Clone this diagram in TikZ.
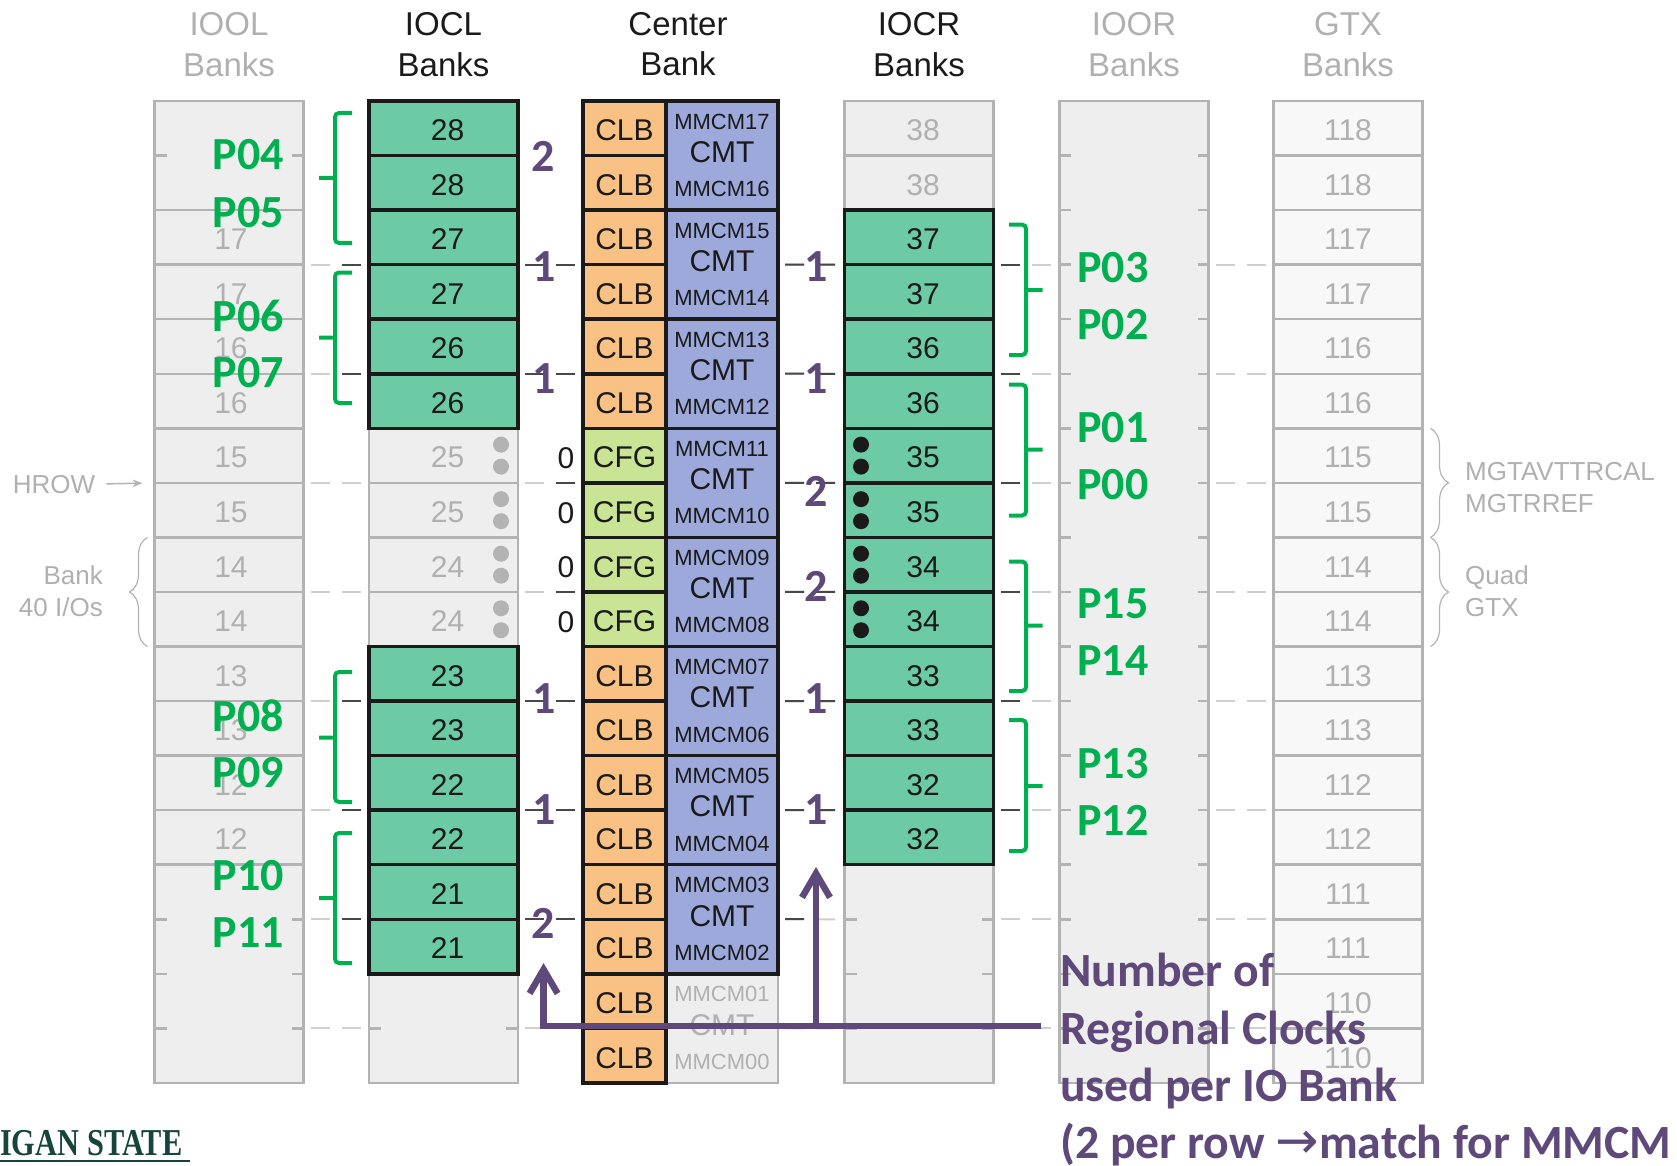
\documentclass[tikz,border=0pt]{standalone}
\usepackage{fontspec}
\setmainfont{Liberation Sans}
\newfontfamily\calibfont{Carlito}
\newfontfamily\logofont{Liberation Serif}
\newfontfamily\arrowfont{DejaVu Sans}
\usetikzlibrary{arrows.meta,decorations.pathreplacing,positioning}
\definecolor{bankfill}{HTML}{EEEEEE}
\definecolor{gtxfill}{HTML}{F8F8F8}
\definecolor{linegray}{HTML}{B3B3B3}
\definecolor{textgray}{HTML}{B0B0B0}
\definecolor{dashgray}{HTML}{CFCFCF}
\definecolor{inkblack}{HTML}{1A1A1A}
\definecolor{ioactive}{HTML}{6CCBA5}
\definecolor{clborange}{HTML}{F9C183}
\definecolor{cfggreen}{HTML}{C8E494}
\definecolor{cmtblue}{HTML}{9DA8DB}
\definecolor{clkpurple}{HTML}{5F497A}
\definecolor{pairgreen}{HTML}{00B050}
\definecolor{logogreen}{HTML}{18453B}
\tikzset{
  bank/.style={
    draw=linegray,
    line width=2.5pt,
    fill=bankfill,
    text=textgray,
    minimum width=149pt,
    minimum height=54.55pt,
    text height=24.7pt,
    text depth=0pt,
    inner sep=0pt,
    outer sep=0pt,
    font=\fontsize{30}{36}\selectfont
  },
  blankrow/.style={bank,draw=none},
  ioolbank/.style={bank,execute at begin node={\hspace*{4pt}}},
  iobank/.style={bank,execute at begin node={\hspace*{8pt}}},
  active/.style={iobank,draw=inkblack,line width=3.5pt,fill=ioactive,text=inkblack},
  clb/.style={bank,draw=inkblack,line width=3.5pt,text=inkblack,minimum width=83pt,fill=clborange},
  cfg/.style={clb,fill=cfggreen},
  cmt/.style={bank,minimum width=112pt,minimum height=109.1pt,draw=inkblack,line width=3.5pt,fill=cmtblue},
  cmtoff/.style={cmt,draw=linegray,line width=2.5pt,fill=bankfill},
  mmcm/.style={inner sep=0pt,text=inkblack,font=\fontsize{22}{26}\selectfont},
  cmtname/.style={mmcm,font=\fontsize{30}{36}\selectfont},
  head/.style={align=center,inner sep=0pt,text=inkblack,font=\fontsize{33}{40.5}\selectfont},
  note/.style={inner sep=0pt,text=textgray,font=\fontsize{26}{32}\selectfont},
  plabel/.style={inner sep=0pt,text=pairgreen,font=\calibfont\bfseries\fontsize{46}{56}\selectfont},
  nclk/.style={plabel,text=clkpurple},
  clknote/.style={nclk,align=left,font=\calibfont\bfseries\fontsize{47.7}{57.4}\selectfont},
  udot/.style={circle,fill=linegray,minimum size=16pt,inner sep=0pt},
  ddot/.style={udot,fill=inkblack},
  tickmark/.style={linegray,line width=2.5pt},
  gap/.style={line width=2pt,shorten <=7pt,shorten >=7pt,dash pattern=on 19pt off 12pt},
  gapgray/.style={gap,dashgray},
  gapdark/.style={gap,inkblack!80},
  gapleft/.style={gapdark,dash pattern=on 19pt off 60pt},
  gapright/.style={gapdark,dash pattern=on 0pt off 31pt on 19pt off 60pt},
  pbrace/.style={pairgreen,line width=4pt,rounded corners=4pt},
  gbrace/.style={linegray,line width=1.2pt,decorate,decoration={brace,amplitude=18pt,aspect=.5}},
  clkarrow/.style={clkpurple,line width=6.5pt,-{Straight Barb[length=24pt,width=28pt]}}
}
\begin{document}
\begin{tikzpicture}[x=1pt,y=-1pt]
\useasboundingbox (0,0) rectangle (1677,1166);
% IOOL column
\foreach \r in {0,1,14,15,16,17} \node[blankrow] (iool\r) at (229,128.3+54.55*\r) {};
\foreach \r/\t in {2/17,3/17,4/16,5/16,6/15,7/15,8/14,9/14,10/13,11/13,12/12,13/12}
  \node[ioolbank] (iool\r) at (229,128.3+54.55*\r) {\t};
\draw[tickmark] (iool0.north west) rectangle (iool17.south east);
\foreach \r in {0,14,15,16} {
  \draw[tickmark] (iool\r.south west) -- +(12,0);
  \draw[tickmark] (iool\r.south east) -- +(-12,0);
}
% IOCL column
\foreach \r in {16,17} \node[blankrow] (iocl\r) at (443.5,128.3+54.55*\r) {};
\draw[tickmark] (iocl16.north west) rectangle (iocl17.south east);
\draw[tickmark] (iocl16.south west) -- +(12,0);
\draw[tickmark] (iocl16.south east) -- +(-12,0);
\foreach \r/\t in {6/25,7/25,8/24,9/24} {
  \node[iobank] (iocl\r) at (443.5,128.3+54.55*\r) {\t};
  \node[udot] (ua\r) at (501,128.3+54.55*\r-11) {};
  \node[udot] (ub\r) at (501,128.3+54.55*\r+11) {};
}
\foreach \r/\t in {0/28,1/28,2/27,3/27,4/26,5/26,10/23,11/23,12/22,13/22,14/21,15/21}
  \node[active] (iocl\r) at (443.5,128.3+54.55*\r) {\t};
% IOCR column
\foreach \r in {14,15,16,17} \node[blankrow] (iocr\r) at (919,128.3+54.55*\r) {};
\draw[tickmark] (iocr14.north west) rectangle (iocr17.south east);
\foreach \r in {14,15,16} {
  \draw[tickmark] (iocr\r.south west) -- +(12,0);
  \draw[tickmark] (iocr\r.south east) -- +(-12,0);
}
\foreach \r/\t in {0/38,1/38} \node[iobank] (iocr\r) at (919,128.3+54.55*\r) {\t};
\foreach \r/\t in {2/37,3/37,4/36,5/36,6/35,7/35,8/34,9/34,10/33,11/33,12/32,13/32}
  \node[active] (iocr\r) at (919,128.3+54.55*\r) {\t};
\foreach \r in {6,...,9} {
  \node[ddot] (da\r) at (861,128.3+54.55*\r-11) {};
  \node[ddot] (db\r) at (861,128.3+54.55*\r+11) {};
}
% IOOR column
\foreach \r in {0,...,17} \node[blankrow] (ioor\r) at (1134,128.3+54.55*\r) {};
\draw[tickmark] (ioor0.north west) rectangle (ioor17.south east);
\foreach \r in {0,...,16} {
  \draw[tickmark] (ioor\r.south west) -- +(11,0);
  \draw[tickmark] (ioor\r.south east) -- +(-11,0);
}
% GTX column
\foreach \r/\t in {0/118,1/118,2/117,3/117,4/116,5/116,6/115,7/115,8/114,9/114,10/113,11/113,12/112,13/112,14/111,15/111,16/110,17/110}
  \node[bank,fill=gtxfill] (gtx\r) at (1348,128.3+54.55*\r) {\t};
% center column
\node[cmtoff] (cmt16) at (722,155.5+54.55*16) {};
\node[cmtname,text=textgray] (cm16) at (722,101+54.55*16+51) {CMT};
\node[mmcm,text=textgray] (mm01) at (722,101+54.55*16+20.5) {MMCM01};
\node[mmcm,text=textgray] (mm00) at (722,101+54.55*16+88) {MMCM00};
\foreach \r/\a/\b in {0/17/16,2/15/14,4/13/12,6/11/10,8/09/08,10/07/06,12/05/04,14/03/02} {
  \node[cmt] (cmt\r) at (722,155.5+54.55*\r) {};
  \node[cmtname] (cm\r) at (722,101+54.55*\r+51) {CMT};
  \node[mmcm] (mm\a) at (722,101+54.55*\r+20.5) {MMCM\a};
  \node[mmcm] (mm\b) at (722,101+54.55*\r+88) {MMCM\b};
}
\foreach \r in {0,...,5,10,11,...,17} \node[clb] (ctr\r) at (624.5,128.3+54.55*\r) {CLB};
\foreach \r in {6,...,9} {
  \node[cfg] (ctr\r) at (624.5,128.3+54.55*\r) {CFG};
  \node[cmtname] (z\r) at (566,131+54.55*\r) {0};
}
% row dashes between the columns
\foreach \r in {2,4,...,16} {
  \draw[gapgray] (iool\r.south east) -- (iocl\r.south west);
  \draw[gapgray] (iocl\r.south east) -- (ctr\r.south west);
  \draw[gapgray] (cmt\r.east) -- (iocr\r.south west);
  \draw[gapgray] (iocr\r.south east) -- (ioor\r.south west);
  \draw[gapgray] (ioor\r.south east) -- (gtx\r.south west);
}
\foreach \r in {2,4,10,12,14} {
  \draw[gapright] (iool\r.south east) -- (iocl\r.south west);
  \draw[gapdark] (iocl\r.south east) -- (ctr\r.south west);
}
\foreach \r in {6,8} \draw[gapright] (iocl\r.south east) -- (ctr\r.south west);
\foreach \r in {2,4,...,12} {
  \draw[gapdark] (cmt\r.east) -- (iocr\r.south west);
  \draw[gapleft] (iocr\r.south east) -- (ioor\r.south west);
}
\draw[gapleft] (cmt14.east) -- (iocr14.south west);
% headers
\node[head,text=textgray,above=24.5pt of iool0] (hiool) {IOOL\\Banks};
\node[head,above=24.5pt of iocl0] (hiocl) {IOCL\\Banks};
\node[head,anchor=south] (hctr) at (678,76.5) {Center\\Bank};
\node[head,above=24.5pt of iocr0] (hiocr) {IOCR\\Banks};
\node[head,text=textgray,above=24.5pt of ioor0] (hioor) {IOOR\\Banks};
\node[head,text=textgray,above=24.5pt of gtx0] (hgtx) {GTX\\Banks};
% side notes
\node[note] (hrow) at (54,485) {HROW};
\draw[linegray,line width=1.5pt,shorten <=11pt,shorten >=12pt,-{Stealth[length=10pt]}] (hrow) -- (iool6.south west);
\node[note,align=right,anchor=east] (banknote) at (103,591) {Bank\\40 I/Os};
\draw[gbrace] ([xshift=-7pt]iool9.south west) -- ([xshift=-7pt]iool8.north west);
\draw[gbrace] ([xshift=8pt]gtx6.north east) -- ([xshift=8pt]gtx7.south east);
\draw[gbrace] ([xshift=8pt]gtx8.north east) -- ([xshift=8pt]gtx9.south east);
\node[note,align=left,anchor=west] (mgtnote) at (1465,488) {MGTAVTTRCAL\\MGTRREF};
\node[note,align=left,anchor=west] (quadnote) at (1465,591) {Quad\\GTX};
% pair braces
\foreach \a/\b/\c in {113/178/243,272.5/337.5/403,672/737.5/802,833/898/963}
  \draw[pbrace] (352,\a) -| (335,\c) -- (352,\c) (335,\b) -- (319,\b);
\foreach \a/\b/\c in {224.6/290/355,384.6/449.7/515.5,561.5/625.6/691,720/786/851}
  \draw[pbrace] (1009,\a) -| (1026,\c) -- (1009,\c) (1026,\b) -- (1042.5,\b);
% pair labels
\foreach \n/\y in {04/155,05/213,06/316,07/373,08/716,09/773,10/876,11/933}
  \node[plabel] (p\n) at (248.5,\y) {P\n};
\foreach \n/\y in {03/268,02/325,01/427.6,00/485,15/604,14/661,13/764,12/820}
  \node[plabel] (p\n) at (1113,\y) {P\n};
% regional clock counts
\foreach \t/\x/\y [count=\k] in {2/543/156,1/544/267,1/544/379,1/544/698.5,1/544/810,2/543/923,1/816/267,1/816/379,2/816/491,2/816/586,1/816/698.5,1/816/810}
  \node[nclk] (nclk\k) at (\x,\y) {\t};
% clock note and its arrows
\node[clknote,anchor=north west] (clknote) at (1060,953) {Number of\\Regional Clocks\\used per IO Bank\\(2 per row {\arrowfont\mdseries\fontsize{52}{57.4}\selectfont →}match for MMCM};
\coordinate (railend) at (1041,1026);
\coordinate (lefttip) at (543.6,963);
\coordinate (righttip) at (816,867);
\draw[clkarrow] (railend) -| (lefttip);
\draw[clkarrow] (righttip |- railend) -- (righttip);
% logo
\node[inner sep=0pt,anchor=south west,text=logogreen,xscale=.8,transform shape,font=\logofont\bfseries\fontsize{38}{44}\selectfont] (logo) at (0,1156) {IGAN STATE};
\draw[logogreen,line width=2pt] (0,1161) -- (190,1161);
\end{tikzpicture}
\end{document}
